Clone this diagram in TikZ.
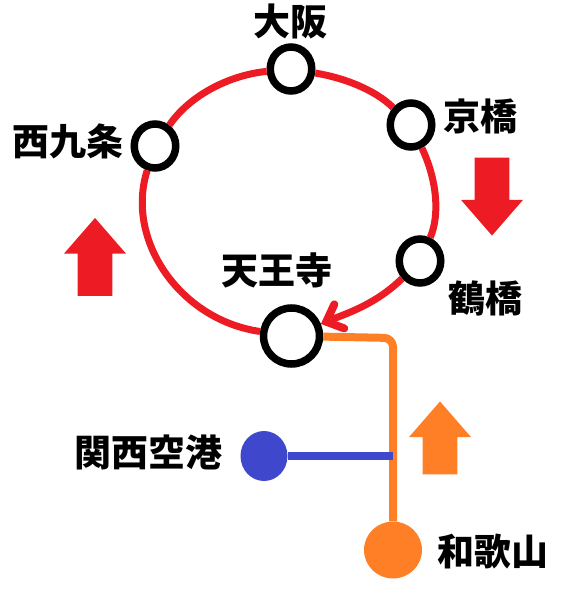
\documentclass[tikz,border=0pt]{standalone}
\usepackage{fontspec}
\setmainfont{Noto Sans CJK JP}[BoldFont={Noto Sans CJK JP Black}]
\usepackage[dvipsnames]{xcolor}
\usepackage{tikz}
\usetikzlibrary{shapes.geometric, shapes.arrows, arrows.meta}

\definecolor{loopred}{HTML}{ED1C24}
\definecolor{lineorange}{HTML}{FF7F27}
\definecolor{lineblue}{HTML}{3F48CC}

\begin{document}
\begin{tikzpicture}[
    x=1pt, y=-1pt,
    sta/.style={ellipse, draw=black, line width=7.5pt, fill=white, inner sep=0pt,
                minimum width=41.5pt, minimum height=44pt},
    bigsta/.style={sta, minimum width=56pt, minimum height=56pt},
    term/.style={ellipse, inner sep=0pt},
    lab/.style={font=\fontsize{37}{37}\selectfont\bfseries, inner sep=0pt},
    loopline/.style={line width=7pt, loopred},
    bigarrow/.style={single arrow, draw=none, inner sep=9pt, minimum height=78pt,
                     minimum width=62pt, single arrow head indent=0pt,
                     single arrow tip angle=82}
  ]
  \useasboundingbox (0,0) rectangle (569,591);

  % Orange and blue branches
  \node[term, fill=lineorange, minimum width=58pt, minimum height=57pt] (wakayama) at (393,550) {};
  \node[term, fill=lineblue, minimum width=47pt, minimum height=50pt] (kanku) at (264,456) {};
  \coordinate (junction) at (393,456);
  \coordinate (corner) at (393,338);

  % Stations on the loop
  \node[sta] (osaka) at (291,69) {};
  \node[sta] (kyobashi) at (411,125) {};
  \node[sta] (nishikujo) at (155,146) {};
  \node[sta] (tsuruhashi) at (420,261) {};
  \node[bigsta] (tennoji) at (291.5,336) {};

  % Connections
  \draw[line width=8pt, lineorange, rounded corners=9pt] (tennoji) -- (corner) -- (wakayama);
  \draw[line width=8pt, lineblue] (kanku) -- (junction);
  \draw[loopline] (tennoji) .. controls (180,320) and (125,240) .. (nishikujo);
  \draw[loopline] (nishikujo) .. controls (190,95) and (230,75) .. (osaka);
  \draw[loopline] (osaka) .. controls (345,78) and (375,90) .. (kyobashi);
  \draw[loopline] (kyobashi) .. controls (437,180) and (440,215) .. (tsuruhashi);
  \draw[loopline, -{Straight Barb[length=14pt, width=26pt, line width=8pt, line cap=round]}]
    (tsuruhashi) .. controls (375,305) and (345,314) .. (tennoji);

  % Direction arrows
  \node[bigarrow, fill=loopred, shape border rotate=90] (uparrow) at (95,267) {};
  \node[bigarrow, fill=loopred, shape border rotate=270] (downarrow) at (492,186.5) {};
  \node[bigarrow, fill=lineorange, shape border rotate=90, minimum height=73pt] (brancharrow) at (440,448) {};

  % Station names
  \node[lab] (osakalab) at (290,21) {大阪};
  \node[lab] (kyobashilab) at (480,116) {京橋};
  \node[lab] (nishikujolab) at (68,141) {西九条};
  \node[lab] (tsuruhashilab) at (485,298) {鶴橋};
  \node[lab] (tennojilab) at (277,270) {天王寺};
  \node[lab] (kankulab) at (148,452) {関西空港};
  \node[lab] (wakayamalab) at (493,552) {和歌山};

\end{tikzpicture}
\end{document}
